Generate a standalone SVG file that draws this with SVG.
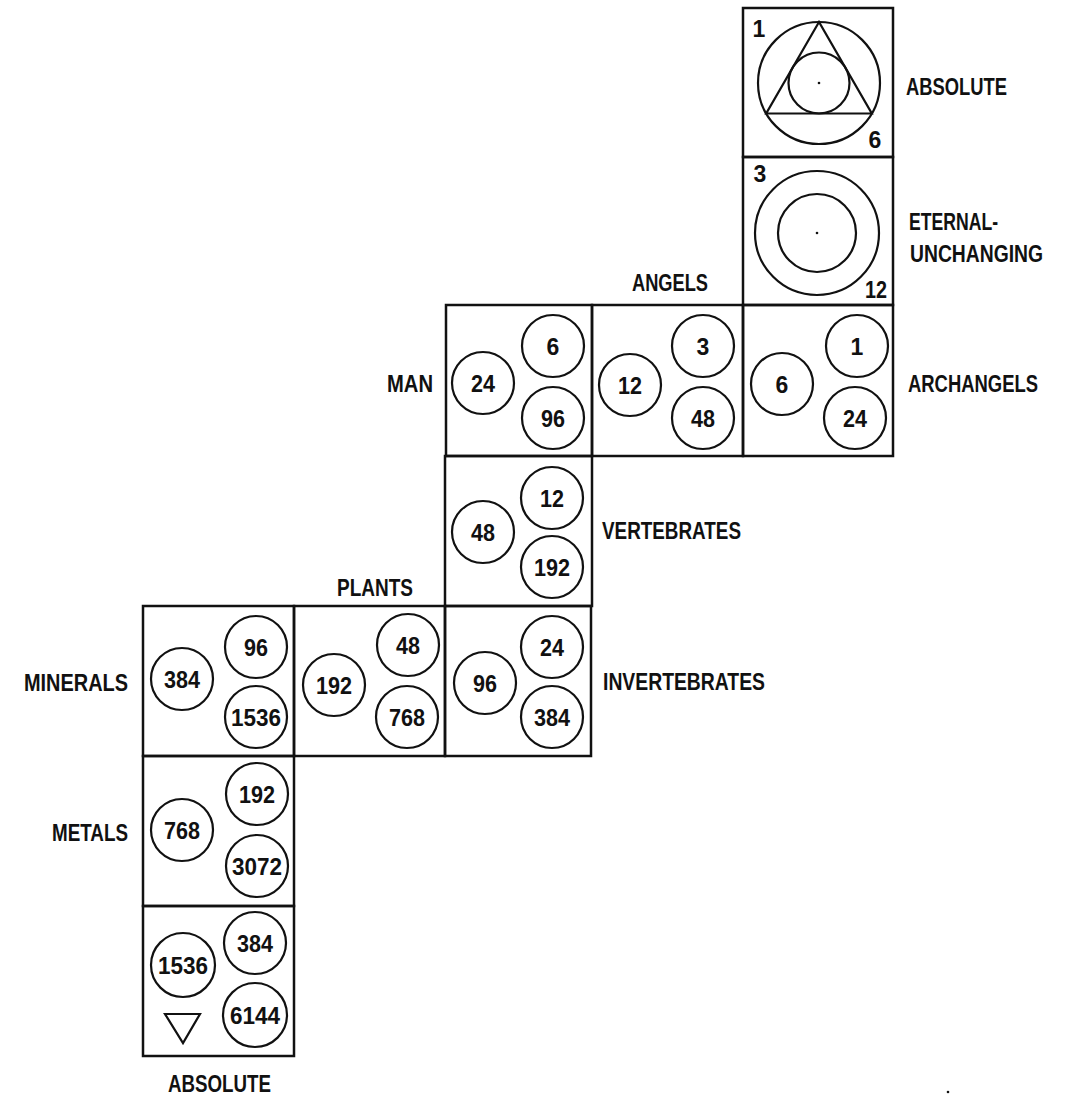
<svg xmlns="http://www.w3.org/2000/svg" width="1076" height="1116" viewBox="0 0 1076 1116">
<style>
.box{fill:none;stroke:#111;stroke-width:2.5}
.c{fill:none;stroke:#111;stroke-width:2.2}
.lbl{font-family:"Liberation Sans",Arial,sans-serif;font-weight:bold;font-size:23px;fill:#111}
.num{font-family:"Liberation Sans",Arial,sans-serif;font-weight:bold;font-size:23px;fill:#111;text-anchor:middle}
.dot{fill:#111}
</style>
<rect width="1076" height="1116" fill="#fff"/>
<g id="absolute-top">
  <rect class="box" x="743" y="8" width="150" height="149"/>
  <circle class="c" cx="819" cy="83" r="61"/>
  <polygon class="c" points="819,22 766.2,113.5 871.8,113.5"/>
  <circle class="c" cx="819" cy="83" r="30.5"/>
  <circle class="dot" cx="819" cy="83" r="1.3"/>
  <text class="num" x="759" y="37">1</text>
  <text class="num" x="875" y="148">6</text>
  <text class="lbl" x="906" y="95" textLength="101" lengthAdjust="spacingAndGlyphs">ABSOLUTE</text>
</g>
<g id="eternal">
  <rect class="box" x="743" y="157" width="150" height="148"/>
  <circle class="c" cx="817" cy="233" r="62"/>
  <circle class="c" cx="817" cy="233" r="39"/>
  <circle class="dot" cx="817" cy="233" r="1.3"/>
  <text class="num" x="760" y="182">3</text>
  <text class="num" x="876" y="298" textLength="22" lengthAdjust="spacingAndGlyphs">12</text>
  <text class="lbl" x="909" y="230" textLength="89" lengthAdjust="spacingAndGlyphs">ETERNAL-</text>
  <text class="lbl" x="910" y="262" textLength="133" lengthAdjust="spacingAndGlyphs">UNCHANGING</text>
</g>
<g id="man">
  <rect class="box" x="446" y="305" width="146" height="151"/>
  <circle class="c" cx="483" cy="383" r="31"/><text class="num" x="483" y="391.5" textLength="24" lengthAdjust="spacingAndGlyphs">24</text>
  <circle class="c" cx="553" cy="346" r="31"/><text class="num" x="553" y="354.5">6</text>
  <circle class="c" cx="553" cy="418" r="31"/><text class="num" x="553" y="426.5" textLength="24" lengthAdjust="spacingAndGlyphs">96</text>
  <text class="lbl" x="387" y="392" textLength="46" lengthAdjust="spacingAndGlyphs">MAN</text>
</g>
<g id="angels">
  <rect class="box" x="592" y="305" width="151" height="151"/>
  <circle class="c" cx="630" cy="385" r="31"/><text class="num" x="630" y="393.5" textLength="24" lengthAdjust="spacingAndGlyphs">12</text>
  <circle class="c" cx="703" cy="346" r="31"/><text class="num" x="703" y="354.5">3</text>
  <circle class="c" cx="703" cy="418" r="31"/><text class="num" x="703" y="426.5" textLength="24" lengthAdjust="spacingAndGlyphs">48</text>
  <text class="lbl" x="632" y="291" textLength="76" lengthAdjust="spacingAndGlyphs">ANGELS</text>
</g>
<g id="archangels">
  <rect class="box" x="743" y="305" width="150" height="151"/>
  <circle class="c" cx="782" cy="384" r="31"/><text class="num" x="782" y="392.5">6</text>
  <circle class="c" cx="857" cy="346" r="31"/><text class="num" x="857" y="354.5">1</text>
  <circle class="c" cx="855" cy="418" r="31"/><text class="num" x="855" y="426.5" textLength="24" lengthAdjust="spacingAndGlyphs">24</text>
  <text class="lbl" x="908" y="392" textLength="130" lengthAdjust="spacingAndGlyphs">ARCHANGELS</text>
</g>
<g id="vertebrates">
  <rect class="box" x="445" y="456" width="147" height="150"/>
  <circle class="c" cx="483" cy="532" r="31"/><text class="num" x="483" y="540.5" textLength="24" lengthAdjust="spacingAndGlyphs">48</text>
  <circle class="c" cx="552" cy="498" r="31"/><text class="num" x="552" y="506.5" textLength="24" lengthAdjust="spacingAndGlyphs">12</text>
  <circle class="c" cx="552" cy="567" r="31"/><text class="num" x="552" y="575.5" textLength="36" lengthAdjust="spacingAndGlyphs">192</text>
  <text class="lbl" x="602" y="539" textLength="139" lengthAdjust="spacingAndGlyphs">VERTEBRATES</text>
</g>
<g id="minerals">
  <rect class="box" x="143" y="606" width="151" height="150"/>
  <circle class="c" cx="182" cy="679" r="31"/><text class="num" x="182" y="687.5" textLength="36" lengthAdjust="spacingAndGlyphs">384</text>
  <circle class="c" cx="256" cy="647" r="31"/><text class="num" x="256" y="655.5" textLength="24" lengthAdjust="spacingAndGlyphs">96</text>
  <circle class="c" cx="256" cy="717" r="31"/><text class="num" x="256" y="725.5" textLength="50" lengthAdjust="spacingAndGlyphs">1536</text>
  <text class="lbl" x="24" y="691" textLength="104" lengthAdjust="spacingAndGlyphs">MINERALS</text>
</g>
<g id="plants">
  <rect class="box" x="294" y="606" width="151" height="150"/>
  <circle class="c" cx="334" cy="685" r="31"/><text class="num" x="334" y="693.5" textLength="36" lengthAdjust="spacingAndGlyphs">192</text>
  <circle class="c" cx="408" cy="645" r="31"/><text class="num" x="408" y="653.5" textLength="24" lengthAdjust="spacingAndGlyphs">48</text>
  <circle class="c" cx="407" cy="717" r="31"/><text class="num" x="407" y="725.5" textLength="36" lengthAdjust="spacingAndGlyphs">768</text>
  <text class="lbl" x="337" y="596" textLength="76" lengthAdjust="spacingAndGlyphs">PLANTS</text>
</g>
<g id="invertebrates">
  <rect class="box" x="445" y="606" width="146" height="150"/>
  <circle class="c" cx="485" cy="683" r="31"/><text class="num" x="485" y="691.5" textLength="24" lengthAdjust="spacingAndGlyphs">96</text>
  <circle class="c" cx="552" cy="647" r="31"/><text class="num" x="552" y="655.5" textLength="24" lengthAdjust="spacingAndGlyphs">24</text>
  <circle class="c" cx="552" cy="717" r="31"/><text class="num" x="552" y="725.5" textLength="36" lengthAdjust="spacingAndGlyphs">384</text>
  <text class="lbl" x="603" y="690" textLength="162" lengthAdjust="spacingAndGlyphs">INVERTEBRATES</text>
</g>
<g id="metals">
  <rect class="box" x="143" y="756" width="151" height="150"/>
  <circle class="c" cx="182" cy="830" r="31"/><text class="num" x="182" y="838.5" textLength="36" lengthAdjust="spacingAndGlyphs">768</text>
  <circle class="c" cx="257" cy="794" r="31"/><text class="num" x="257" y="802.5" textLength="36" lengthAdjust="spacingAndGlyphs">192</text>
  <circle class="c" cx="257" cy="866" r="31"/><text class="num" x="257" y="874.5" textLength="50" lengthAdjust="spacingAndGlyphs">3072</text>
  <text class="lbl" x="52" y="841" textLength="76" lengthAdjust="spacingAndGlyphs">METALS</text>
</g>
<g id="absolute-bottom">
  <rect class="box" x="143" y="906" width="151" height="150"/>
  <circle class="c" cx="183" cy="965" r="32"/><text class="num" x="183" y="973.5" textLength="50" lengthAdjust="spacingAndGlyphs">1536</text>
  <circle class="c" cx="255" cy="943" r="31"/><text class="num" x="255" y="951.5" textLength="36" lengthAdjust="spacingAndGlyphs">384</text>
  <circle class="c" cx="255" cy="1015" r="32"/><text class="num" x="255" y="1023.5" textLength="50" lengthAdjust="spacingAndGlyphs">6144</text>
  <polygon class="c" points="165,1014 200,1014 183,1043"/>
  <text class="lbl" x="168" y="1092" textLength="103" lengthAdjust="spacingAndGlyphs">ABSOLUTE</text>
</g>
<g id="connectors"></g>
<circle class="dot" cx="948" cy="1092" r="1.3"/>
</svg>
